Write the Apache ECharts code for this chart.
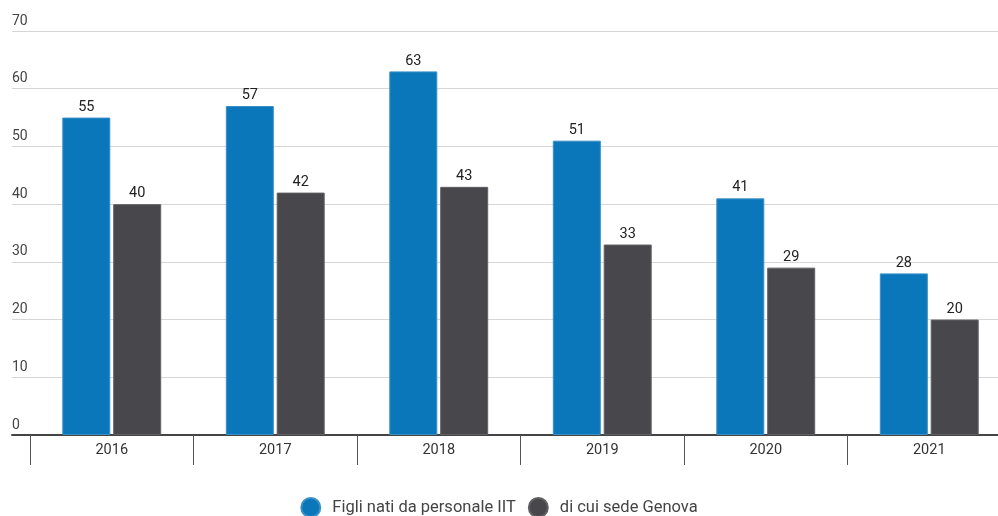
<!DOCTYPE html>
<html><head><meta charset="utf-8">
<script src="https://cdn.jsdelivr.net/npm/echarts@6/dist/echarts.min.js"></script>
<style>html,body{margin:0;padding:0;background:#fff}#c{width:998px;height:516px}</style>
</head><body><div id="c"></div>
<script>
const categories = ['2016','2017','2018','2019','2020','2021'];
const figliIIT = [55,57,63,51,41,28];
const sedeGenova = [40,42,43,33,29,20];
const yTicks = [0,10,20,30,40,50,60,70];

const chart = echarts.init(document.getElementById('c'));
const FONT = 'Roboto';
chart.setOption({
  animation: false,
  textStyle: {fontFamily: FONT},
  grid: [
    {left: 12, right: 0, top: 31, bottom: 81, containLabel: false, outerBoundsMode: 'none'},
    {left: 30, width: 981, top: 31, bottom: 81, containLabel: false, outerBoundsMode: 'none'}
  ],
  legend: {
    top: 497, left: 'center', padding: 0, itemWidth: 19, itemHeight: 19, itemGap: 12,
    icon: 'circle',
    textStyle: {fontFamily: FONT, fontSize: 16.5, color: '#444', padding: [0,0,0,7]},
    data: ['Figli nati da personale IIT', 'di cui sede Genova']
  },
  xAxis: [
    {gridIndex: 0, type: 'value', min: 0, max: 1, show: true,
     axisLine: {show: true, onZero: false, lineStyle: {color: '#444', width: 2}},
     axisTick: {show: false}, axisLabel: {show: false}, splitLine: {show: false}},
    {gridIndex: 1, type: 'category', data: categories,
     axisLine: {show: false},
     axisTick: {show: true, length: 30, lineStyle: {color: '#555', width: 1}},
     axisLabel: {fontFamily: FONT, fontSize: 14.5, color: '#333', margin: 8},
     splitLine: {show: false}}
  ],
  yAxis: [
    {gridIndex: 0, type: 'value', min: 0, max: 70, interval: 10,
     axisLine: {show: false}, axisTick: {show: false},
     axisLabel: {inside: true, margin: 0, align: 'left', verticalAlign: 'bottom',
       padding: [0,0,3,0], fontFamily: FONT, fontSize: 14, color: '#444',
       formatter: v => yTicks.includes(v) ? String(v) : ''},
     splitLine: {lineStyle: {color: '#d6d6d6', width: 1}}},
    {gridIndex: 1, type: 'value', min: 0, max: 70, interval: 10, show: false,
     splitLine: {show: false}}
  ],
  series: [
    {name: 'Figli nati da personale IIT', type: 'bar', xAxisIndex: 1, yAxisIndex: 1,
     data: figliIIT, barWidth: 48, barGap: '6%',
     itemStyle: {color: '#0b77bb', borderColor: '#3b8fc6', borderWidth: 1},
     label: {show: true, position: 'top', distance: 3, fontFamily: FONT, fontSize: 14.5, color: '#222'}},
    {name: 'di cui sede Genova', type: 'bar', xAxisIndex: 1, yAxisIndex: 1,
     data: sedeGenova, barWidth: 48,
     itemStyle: {color: '#48484c', borderColor: '#606064', borderWidth: 1},
     label: {show: true, position: 'top', distance: 3, fontFamily: FONT, fontSize: 14.5, color: '#222'}}
  ]
});
</script></body></html>
